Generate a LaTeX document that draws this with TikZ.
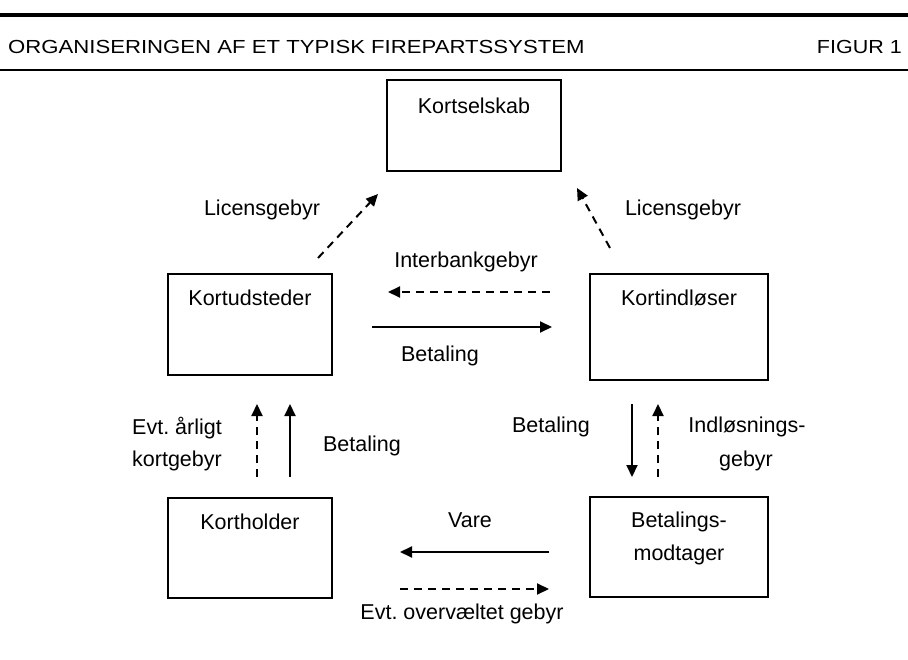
\documentclass[tikz,border=0pt]{standalone}
\usepackage{fontspec}
\setmainfont{Liberation Sans}
\usetikzlibrary{arrows.meta}
\frenchspacing
\tikzset{
  box/.style={draw=black, line width=2pt, fill=white, inner sep=0pt},
  lbl/.style={inner sep=0pt, font=\fontsize{21.5}{25}\selectfont, align=center},
  ttl/.style={inner sep=0pt, font=\fontsize{21.5}{25}\selectfont},
  conn/.style={line width=2pt, -{Triangle[length=12pt,width=11pt]}},
  dconn/.style={conn, dash pattern=on 8pt off 6pt},
  rule/.style={draw=black}
}
\begin{document}
\begin{tikzpicture}[x=1pt,y=-1pt]
\useasboundingbox (0,0) rectangle (908,660);
% rules
\coordinate (r1a) at (0,15); \coordinate (r1b) at (908,15);
\coordinate (r2a) at (0,70); \coordinate (r2b) at (908,70);
\draw[line width=4.5pt] (r1a) -- (r1b);
\draw[line width=2.2pt] (r2a) -- (r2b);
\node[ttl, anchor=base west] (title) at (8,54) {\scalebox{1.03}[0.88]{ORGANISERINGEN AF ET TYPISK FIREPARTSSYSTEM}};
\node[ttl, anchor=base east] (fig) at (902,54) {\scalebox{1}[0.88]{FIGUR 1}};
% boxes
\node[box, minimum width=174pt, minimum height=91pt] (ks) at (473.5,125.5) {};
\node[box, minimum width=164pt, minimum height=101pt] (ud) at (250,324.5) {};
\node[box, minimum width=178pt, minimum height=106pt] (il) at (679,327) {};
\node[box, minimum width=164pt, minimum height=100pt] (kh) at (250,548) {};
\node[box, minimum width=178pt, minimum height=100pt] (bm) at (679,547) {};
% box texts
\node[lbl] (tks) at (474,106) {Kortselskab};
\node[lbl] (tud) at (250,298) {Kortudsteder};
\node[lbl] (til) at (679,298) {Kortindløser};
\node[lbl] (tkh) at (250,522) {Kortholder};
\node[lbl] (tbm1) at (679,522) {Betalings-};
\node[lbl] (tbm2) at (679,555) {modtager};
% arrow end points
\coordinate (a1s) at (318,258); \coordinate (a1e) at (378,194);
\coordinate (a2s) at (610,248); \coordinate (a2e) at (577,188);
\coordinate (a3s) at (550,292); \coordinate (a3e) at (388,292);
\coordinate (a4s) at (372,327); \coordinate (a4e) at (552,327);
\coordinate (a5s) at (257,477); \coordinate (a5e) at (257,404);
\coordinate (a6s) at (290,477); \coordinate (a6e) at (290,404);
\coordinate (a7s) at (632,404); \coordinate (a7e) at (632,477);
\coordinate (a8s) at (658,477); \coordinate (a8e) at (658,404);
\coordinate (a9s) at (549,552); \coordinate (a9e) at (400,552);
\coordinate (a10s) at (400,589); \coordinate (a10e) at (549,589);
\draw[dconn] (a1s) -- (a1e);
\draw[dconn] (a2s) -- (a2e);
\draw[dconn] (a3s) -- (a3e);
\draw[conn] (a4s) -- (a4e);
\draw[dconn] (a5s) -- (a5e);
\draw[conn] (a6s) -- (a6e);
\draw[conn] (a7s) -- (a7e);
\draw[dconn] (a8s) -- (a8e);
\draw[conn] (a9s) -- (a9e);
\draw[dconn] (a10s) -- (a10e);
% labels
\node[lbl] (l1) at (262,210) {Licensgebyr};
\node[lbl] (l2) at (683,210) {Licensgebyr};
\node[lbl] (l3) at (466,262) {Interbankgebyr};
\node[lbl] (l4) at (440,356) {Betaling};
\node[lbl] (l5a) at (177,428) {Evt. årligt};
\node[lbl] (l5b) at (177,461) {kortgebyr};
\node[lbl] (l6) at (362,446) {Betaling};
\node[lbl] (l7) at (551,427) {Betaling};
\node[lbl] (l8a) at (747,427) {Indløsnings-};
\node[lbl] (l8b) at (746,461) {gebyr};
\node[lbl] (l9) at (470,520) {Vare};
\node[lbl] (l10) at (462,614) {Evt. overvæltet gebyr};
\end{tikzpicture}
\end{document}
